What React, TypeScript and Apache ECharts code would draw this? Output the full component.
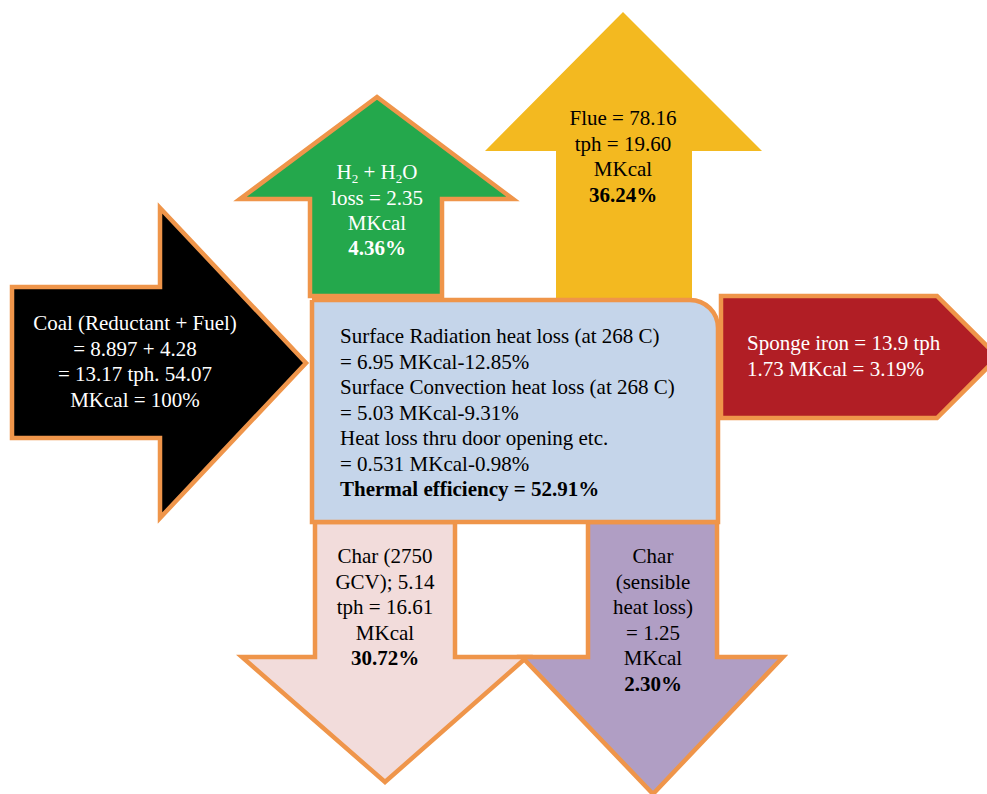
import React, { useEffect, useRef } from "react";
import * as echarts from "echarts";

// ---- Diagram content (texts) ----
const coalLines = ["Coal (Reductant + Fuel)", "= 8.897 + 4.28", "= 13.17 tph. 54.07", "MKcal = 100%"];
const h2oLines = ["loss = 2.35", "MKcal"];
const h2oPct = "4.36%";
const flueLines = ["Flue = 78.16", "tph = 19.60", "MKcal"];
const fluePct = "36.24%";
const spongeLines = ["Sponge iron = 13.9 tph", "1.73 MKcal = 3.19%"];
const centreLines = [
  "Surface Radiation heat loss (at 268 C)",
  "= 6.95 MKcal-12.85%",
  "Surface Convection heat loss (at 268 C)",
  "= 5.03 MKcal-9.31%",
  "Heat loss thru door opening etc.",
  "= 0.531 MKcal-0.98%",
];
const centrePct = "Thermal efficiency = 52.91%";
const charLines = ["Char (2750", "GCV); 5.14", "tph = 16.61", "MKcal"];
const charPct = "30.72%";
const sensLines = ["Char", "(sensible", "heat loss)", "= 1.25", "MKcal"];
const sensPct = "2.30%";

const FONT = "'Liberation Serif', 'Times New Roman', serif";
const FS = 21;
const ORANGE = "#EF954A";

function textBlock(lines: string[], boldLast: string | null, x: number, y0: number, lh: number, fill: string, align: string) {
  const all = boldLast ? [...lines, boldLast] : lines;
  return all.map((t, i) => ({
    type: "text",
    z: 10,
    style: {
      text: t,
      x,
      y: y0 + i * lh,
      fill,
      align,
      verticalAlign: "middle",
      font: `${boldLast && i === all.length - 1 ? "bold " : ""}${FS}px ${FONT}`,
    },
  }));
}

export default function App() {
  const ref = useRef<HTMLDivElement>(null);
  useEffect(() => {
    if (!ref.current) return;
    const chart = echarts.init(ref.current, null, { renderer: "svg" });
    const stroke = { stroke: ORANGE, lineWidth: 4.5, lineJoin: "miter" };
    const elements: any[] = [
      // Flue (yellow, no border)
      {
        type: "polygon",
        shape: { points: [[556, 302], [556, 151], [485, 151], [623, 12], [762, 151], [692, 151], [692, 302]] },
        style: { fill: "#F3B920" },
      },
      // H2 + H2O (green)
      {
        type: "polygon",
        shape: { points: [[310, 296], [310, 199], [240, 199], [377, 97], [513, 199], [442, 199], [442, 296]] },
        style: { fill: "#24A84C", ...stroke },
      },
      // Coal (black)
      {
        type: "polygon",
        shape: { points: [[12, 287], [160, 287], [160, 208], [306, 363], [160, 518], [160, 438], [12, 438]] },
        style: { fill: "#000000", ...stroke },
      },
      // Sponge iron (red)
      {
        type: "polygon",
        shape: { points: [[721, 296], [937, 296], [998, 357], [937, 418], [721, 418]] },
        style: { fill: "#B11E25", ...stroke },
      },
      // Char (pink)
      {
        type: "polygon",
        shape: { points: [[315, 522], [455, 522], [455, 657], [527, 657], [385, 782], [242, 657], [315, 657]] },
        style: { fill: "#F2DCDB", ...stroke },
      },
      // Char sensible (purple)
      {
        type: "polygon",
        shape: { points: [[588, 522], [717, 522], [717, 657], [783, 657], [653, 794], [522, 657], [588, 657]] },
        style: { fill: "#B09EC4", ...stroke },
      },
      // Central box
      {
        type: "rect",
        shape: { x: 312, y: 300, width: 406, height: 222, r: [0, 28, 0, 0] },
        style: { fill: "#C5D5EA", ...stroke },
      },
      // H2 + H2O heading with subscripts
      {
        type: "text",
        z: 10,
        style: {
          text: "{n|H}{s|2}{n| + H}{s|2}{n|O}",
          x: 377,
          y: 172,
          align: "center",
          verticalAlign: "middle",
          fill: "#ffffff",
          rich: {
            n: { fontSize: FS, fontFamily: FONT, fill: "#ffffff", lineHeight: 26 },
            s: { fontSize: 13, fontFamily: FONT, fill: "#ffffff", verticalAlign: "bottom" },
          },
        },
      },
      ...textBlock(coalLines, null, 135, 323, 25.6, "#ffffff", "center"),
      ...textBlock(h2oLines, h2oPct, 377, 197.5, 25.4, "#ffffff", "center"),
      ...textBlock(flueLines, fluePct, 623, 118, 25.6, "#000000", "center"),
      ...textBlock(spongeLines, null, 747, 343, 26, "#ffffff", "left"),
      ...textBlock(centreLines, centrePct, 340, 336, 25.5, "#000000", "left"),
      ...textBlock(charLines, charPct, 385, 556, 25.5, "#000000", "center"),
      ...textBlock(sensLines, sensPct, 653, 556, 25.6, "#000000", "center"),
    ];
    chart.setOption({
      animation: false,
      backgroundColor: "#ffffff",
      graphic: { elements },
    });
    return () => chart.dispose();
  }, []);
  return (
    <div
      ref={ref}
      style={{ position: "fixed", left: 0, top: 0, width: 987, height: 794, background: "#fff" }}
    />
  );
}
